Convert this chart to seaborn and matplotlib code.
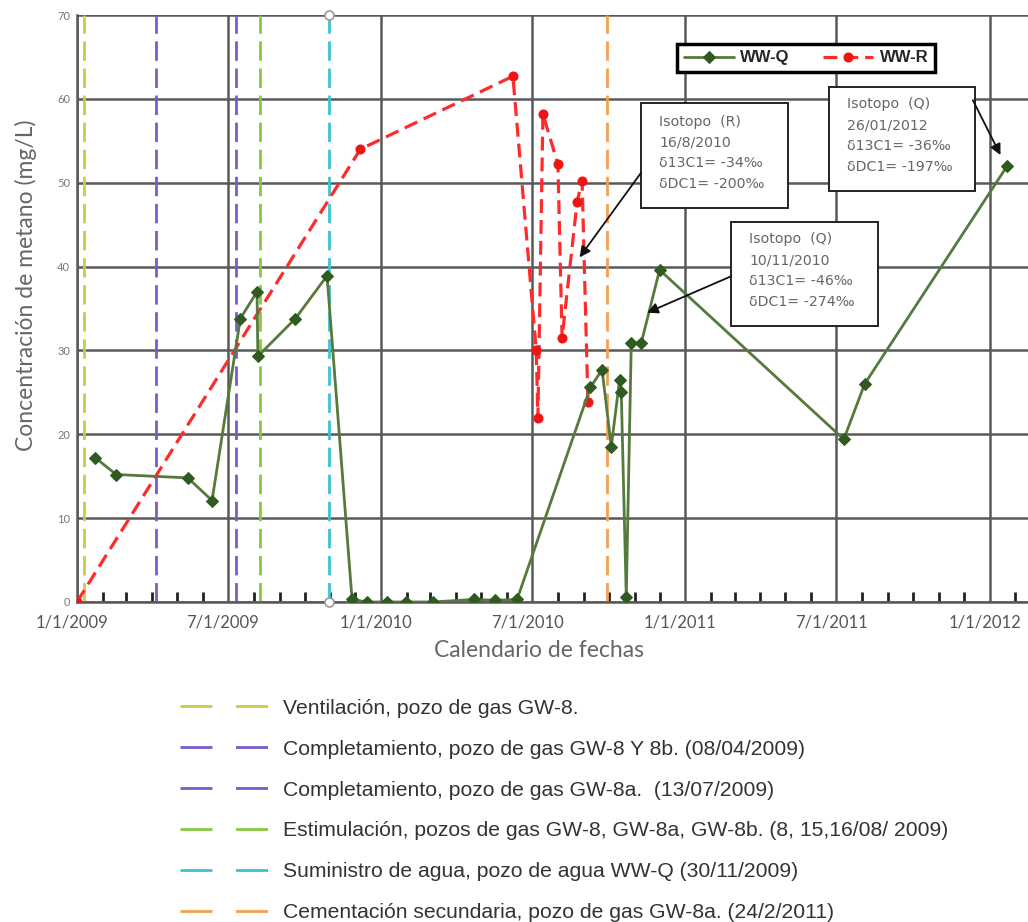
import numpy as np
import pandas as pd
import matplotlib
matplotlib.use("Agg")
import matplotlib.pyplot as plt
import matplotlib.dates as mdates
from matplotlib.lines import Line2D
from matplotlib.patches import Rectangle
from matplotlib.transforms import ScaledTranslation
import seaborn as sns

# --- Pozo WW-Q: concentración de metano (mg/L) ---
ww_q_fechas = ['2009-01-23', '2009-02-17', '2009-05-14', '2009-06-12', '2009-07-16',
               '2009-08-05', '2009-08-06', '2009-09-20', '2009-10-28', '2009-11-27',
               '2009-12-15', '2010-01-08', '2010-01-31', '2010-03-04', '2010-04-22',
               '2010-05-18', '2010-06-13', '2010-09-09', '2010-09-23', '2010-10-04',
               '2010-10-14', '2010-10-16', '2010-10-22', '2010-10-28', '2010-11-09',
               '2010-12-01', '2011-07-10', '2011-08-04', '2012-01-22']
ww_q_metano = [17.2, 15.2, 14.8, 12.1, 33.8,
               37.0, 29.3, 33.8, 38.9, 0.3,
               0.0, 0.0, 0.0, 0.0, 0.3,
               0.2, 0.3, 25.6, 27.7, 18.5,
               26.5, 25.0, 0.6, 30.9, 30.9,
               39.6, 19.4, 26.0, 52.0]

# --- Pozo WW-R ---
ww_r_fechas = ['2009-01-01', '2009-12-07', '2010-06-08', '2010-07-06', '2010-07-08',
               '2010-07-14', '2010-08-01', '2010-08-06', '2010-08-24', '2010-08-30',
               '2010-09-06']
ww_r_metano = [0.0, 54.0, 62.7, 30.0, 22.0,
               58.2, 52.2, 31.5, 47.7, 50.2,
               23.9]

# --- Eventos en los pozos de gas ---
eventos = ['Ventilación, pozo de gas GW-8.',
           'Completamiento, pozo de gas GW-8 Y 8b. (08/04/2009)',
           'Completamiento, pozo de gas GW-8a.  (13/07/2009)',
           'Estimulación, pozos de gas GW-8, GW-8a, GW-8b. (8, 15,16/08/ 2009)',
           'Suministro de agua, pozo de agua WW-Q (30/11/2009)',
           'Cementación secundaria, pozo de gas GW-8a. (24/2/2011)']
evento_fechas = ['2009-01-09', '2009-04-06', '2009-07-11', '2009-08-08',
                 '2009-10-30', '2010-09-29']
evento_colores = ['#cbcb45', '#7a5ccc', '#7a5ccc', '#85c93c', '#3cc4d2', '#f5a052']

# --- Datos isotópicos ---
isotopos = [
    ['Isotopo  (R)', '16/8/2010', 'δ13C1= -34‰', 'δDC1= -200‰'],
    ['Isotopo  (Q)', '10/11/2010', 'δ13C1= -46‰', 'δDC1= -274‰'],
    ['Isotopo  (Q)', '26/01/2012', 'δ13C1= -36‰', 'δDC1= -197‰'],
]
isotopo_objetivo_fecha = ['2010-08-27', '2010-11-16', '2012-01-14']
isotopo_objetivo_valor = [41.1, 34.5, 53.3]

tick_fechas = ['2009-01-01', '2009-07-01', '2010-01-01', '2010-07-01',
               '2011-01-01', '2011-07-01', '2012-01-01']
tick_etiquetas = ['1/1/2009', '7/1/2009', '1/1/2010', '7/1/2010',
                  '1/1/2011', '7/1/2011', '1/1/2012']

sns.set_theme(style="white")
plt.rcParams['font.family'] = ['Lato', 'DejaVu Sans']
plt.rcParams['lines.scale_dashes'] = False

df_q = pd.DataFrame({'fecha': pd.to_datetime(ww_q_fechas), 'metano': ww_q_metano})
df_r = pd.DataFrame({'fecha': pd.to_datetime(ww_r_fechas), 'metano': ww_r_metano})

fig = plt.figure(figsize=(10.28, 9.22), dpi=100)
ax = fig.add_axes([0.0749, 0.3471, 0.9251, 0.6366])

grid_color = '#595959'

# event lines
for fecha, color in zip(evento_fechas, evento_colores):
    ax.axvline(pd.Timestamp(fecha), color=color, lw=2.0,
               linestyle=(0, (14, 5.5)), zorder=2)
# water supply marker ends
cy = pd.Timestamp(evento_fechas[4])
ax.plot([cy, cy], [0, 70], linestyle='none', marker='o', ms=6.5,
        mfc='white', mec='#9a9a9a', mew=1.2, clip_on=False, zorder=6)

sns.lineplot(data=df_r, x='fecha', y='metano', ax=ax, sort=False, estimator=None,
             color='#ff2b2b', lw=2.3, linestyle=(0, (10, 5)), marker='o', ms=6.5,
             mfc='#ee1515', mec='#ee1515', label='WW-R', zorder=4)
sns.lineplot(data=df_q, x='fecha', y='metano', ax=ax, sort=False, estimator=None,
             color='#557a3c', lw=2.0, marker='D', ms=6, mfc='#2f5a20', mec='#2f5a20',
             label='WW-Q', zorder=5)

ax.set_ylim(0, 70)
ax.set_xlim(pd.Timestamp('2009-01-01'), pd.Timestamp('2012-02-16'))

ax.set_yticks(np.arange(0, 71, 10))
ax.set_xticks(pd.to_datetime(tick_fechas))
ax.set_xticklabels(tick_etiquetas)
ax.xaxis.set_minor_locator(mdates.MonthLocator())

ax.grid(True, which='major', axis='both', color=grid_color, lw=1.8, zorder=1)
ax.set_axisbelow(True)
for side in ['top', 'right']:
    ax.spines[side].set_visible(False)
for side in ['left', 'bottom']:
    ax.spines[side].set_color(grid_color)
    ax.spines[side].set_linewidth(1.8)

ax.tick_params(axis='x', which='major', length=0, pad=9, labelsize=12,
               labelcolor='#555555')
ax.tick_params(axis='x', which='minor', direction='in', length=7, width=2,
               color='#222222', bottom=True)
ax.tick_params(axis='y', length=0, pad=5, labelsize=8, labelcolor='#777777')
shift = ScaledTranslation(-5 / 100, 0, fig.dpi_scale_trans)
for lab in ax.get_xticklabels():
    lab.set_transform(lab.get_transform() + shift)

ax.set_xlabel('Calendario de fechas', fontsize=16.5, color='#666666')
ax.xaxis.set_label_coords(0.486, -0.064)
ax.set_ylabel('Concentración de metano (mg/L)', fontsize=16.5, color='#666666')
ax.yaxis.set_label_coords(-0.042, 0.540)

# series legend
handles, labels = ax.get_legend_handles_labels()
order = [labels.index('WW-Q'), labels.index('WW-R')]
leg = ax.legend([handles[i] for i in order], [labels[i] for i in order],
                loc='upper left', bbox_to_anchor=(0.631, 0.951), ncol=2,
                prop=dict(family='Liberation Sans', weight='bold', size=12),
                frameon=True, fancybox=False, edgecolor='black', framealpha=1,
                borderpad=0.4, handlelength=3.0, handletextpad=0.4,
                columnspacing=2.0, borderaxespad=0)
leg.get_frame().set_linewidth(2.5)

# isotope boxes (axes fraction) and arrows
cajas = [(0.593, 0.671, 0.155, 0.179), (0.688, 0.470, 0.154, 0.177),
         (0.791, 0.700, 0.153, 0.177)]
texto_pos = [(0.612, 0.830), (0.707, 0.630), (0.810, 0.860)]
flecha_origen = [(0.593, 0.731), (0.688, 0.555), (0.942, 0.855)]
for lineas, caja, tpos, origen, fdate, fval in zip(
        isotopos, cajas, texto_pos, flecha_origen,
        isotopo_objetivo_fecha, isotopo_objetivo_valor):
    x0, y0, w, h = caja
    ax.add_patch(Rectangle((x0, y0), w, h, transform=ax.transAxes,
                           facecolor='white', edgecolor='#222222', lw=1.4, zorder=7))
    ax.text(tpos[0], tpos[1], '\n'.join(lineas), transform=ax.transAxes,
            ha='left', va='top', fontsize=10.2, color='#666666',
            family=['DejaVu Sans'], linespacing=1.62, zorder=8)
    ax.annotate('', xy=(mdates.date2num(pd.Timestamp(fdate)), fval), xycoords='data',
                xytext=origen, textcoords='axes fraction',
                arrowprops=dict(arrowstyle='-|>', color='#111111', lw=1.3,
                                mutation_scale=16, shrinkA=0, shrinkB=0),
                zorder=8)

# events legend
ev_handles = [Line2D([0], [0], color=c, lw=2.0, linestyle=(0, (23, 17)))
              for c in evento_colores]
fig.legend(ev_handles, eventos, loc='upper left', bbox_to_anchor=(0.175, 0.2423),
           frameon=False, prop=dict(family='Liberation Sans', size=15.2),
           labelcolor='#333333', handlelength=4.35, handletextpad=0.52,
           labelspacing=1.04, borderpad=0, borderaxespad=0)

fig.savefig('out.png', dpi=100)
